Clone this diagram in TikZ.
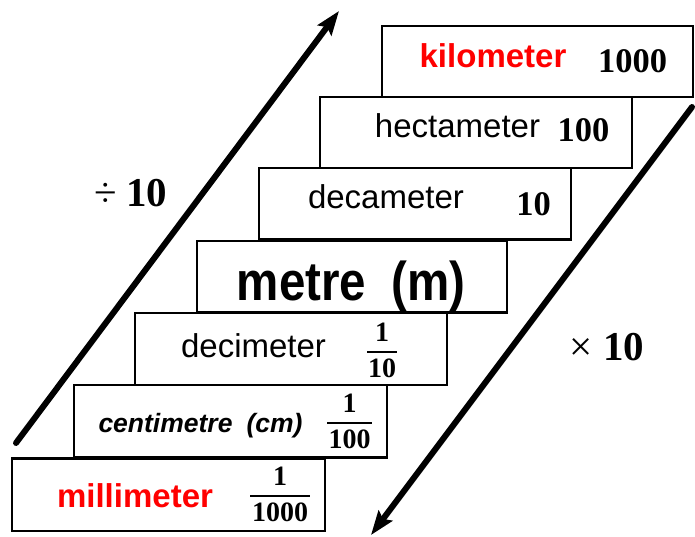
\documentclass[tikz,border=0pt]{standalone}
\usepackage{fontspec}
\newfontfamily\lsans{Liberation Sans}
\newfontfamily\lserif{Liberation Serif}
\usetikzlibrary{arrows.meta}
\begin{document}
\begin{tikzpicture}[x=1pt,y=-1pt,
  box/.style={draw=black, line width=2.2pt, fill=white, inner sep=0pt, outer sep=0pt},
  unit/.style={anchor=base, inner sep=0pt, font=\lsans\fontsize{33}{36}\selectfont},
  unitb/.style={anchor=base, inner sep=0pt, font=\lsans\bfseries\fontsize{33}{36}\selectfont},
  num/.style={anchor=base, inner sep=0pt, font=\lserif\bfseries\fontsize{34.5}{36}\selectfont},
  fr/.style={anchor=base, inner sep=0pt, font=\lserif\bfseries\fontsize{28}{30}\selectfont},
  fbar/.style={line width=1.8pt},
  bigarrow/.style={line width=6pt, line cap=round, -{Stealth[length=24pt,width=17pt,inset=4pt]}},
  op/.style={anchor=base, inner sep=0pt, font=\lserif\fontsize{41}{44}\selectfont}]
\useasboundingbox (0,0) rectangle (695,537);

% boxes
\node[box, minimum width=311pt, minimum height=71pt] (km)  at (537.5,61.5) {};
\node[box, minimum width=312pt, minimum height=71pt] (hm)  at (476,132.5) {};
\node[box, minimum width=312pt, minimum height=71.5pt] (dam) at (415,203.75) {};
\node[box, minimum width=310pt, minimum height=71.5pt] (m)   at (352,276.75) {};
\node[box, minimum width=312pt, minimum height=72pt] (dm)  at (291,349) {};
\node[box, minimum width=313pt, minimum height=72.5pt] (cm)  at (230.5,421.25) {};
\node[box, minimum width=313pt, minimum height=72.5pt] (mm)  at (168.5,494.75) {};

% unit names
\node[unitb, text=red] (kmt) at (493,68) {kilometer};
\node[unit] (hmt) at (457.5,138) {hectameter};
\node[unit] (damt) at (386,208) {decameter};
\node[anchor=base, inner sep=0pt] (mt) at (351,300) {\scalebox{1}[1.15]{\lsans\bfseries\fontsize{47.5}{50}\selectfont metre\hspace{25pt}(m)}};
\node[unit] (dmt) at (253.5,357) {decimeter};
\node[anchor=base, inner sep=0pt, font=\lsans\bfseries\itshape\fontsize{26.5}{30}\selectfont] (cmt) at (200.5,432) {centimetre\hspace{14pt}(cm)};
\node[unitb, text=red] (mmt) at (135,507) {millimeter};

% factors
\node[num] (kmn) at (632.5,72.5) {1000};
\node[num] (hmn) at (583.5,142) {100};
\node[num] (damn) at (533.5,215) {10};

% fractions
\node[fr] (dmn1) at (382,341) {1};
\draw[fbar] (367,352) -- (397,352);
\node[fr] (dmn2) at (382,377.5) {10};

\node[fr] (cmn1) at (349.5,412) {1};
\draw[fbar] (327,423) -- (372,423);
\node[fr] (cmn2) at (349.5,448) {100};

\node[fr] (mmn1) at (280,485) {1};
\draw[fbar] (250,496) -- (310,496);
\node[fr] (mmn2) at (280,521) {1000};

% arrows
\coordinate (upS) at (16,443);
\coordinate (upE) at (339,11);
\coordinate (dnS) at (692,107);
\coordinate (dnE) at (371,535);
\draw[bigarrow] (upS) -- (upE);
\draw[bigarrow] (dnS) -- (dnE);

\node[op] (div) at (131,207) {÷\hspace{9pt}\textbf{10}};
\node[op] (mul) at (607,360) {×\hspace{10pt}\textbf{10}};
\end{tikzpicture}
\end{document}
